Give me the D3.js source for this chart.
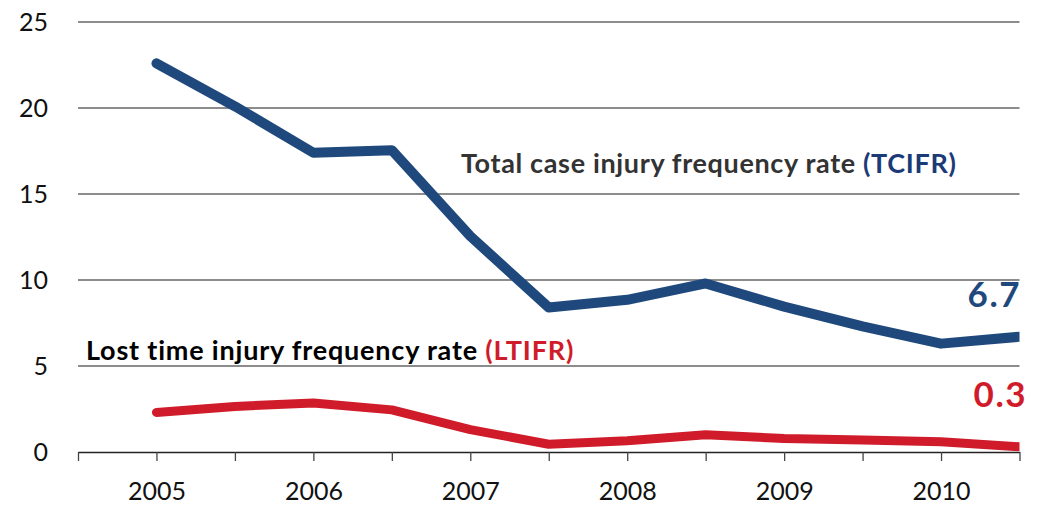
<!DOCTYPE html>
<html>
<head>
<meta charset="utf-8">
<script src="https://cdn.jsdelivr.net/npm/d3@7"></script>
<style>
  body { margin: 0; background: #fff; }
  svg { display: block; font-family: Lato, "Open Sans", sans-serif; }
</style>
</head>
<body>
<script>
const width = 1043;
const height = 505;

// half-year periods, labelled once per year
const years = [2005, 2006, 2007, 2008, 2009, 2010];
const tcifr = [22.6, 20.1, 17.4, 17.55, 12.55, 8.4, 8.85, 9.8, 8.45, 7.3, 6.3, 6.7];
const ltifr = [2.3, 2.65, 2.85, 2.45, 1.3, 0.45, 0.65, 1.0, 0.78, 0.7, 0.6, 0.3];
const yTicks = [0, 5, 10, 15, 20, 25];

const svg = d3.select("body")
    .append("svg")
    .attr("width", width)
    .attr("height", height);

const x = d3.scaleLinear()
    .domain([-1, 11])
    .range([78, 1019.5]);

const y = d3.scaleLinear()
    .domain([0, 25])
    .range([452, 22]);

// gridlines
svg.append("g")
    .selectAll("line")
    .data(yTicks.filter(d => d > 0))
    .enter()
    .append("line")
    .attr("x1", x(-1))
    .attr("x2", x(11))
    .attr("y1", d => y(d))
    .attr("y2", d => y(d))
    .attr("stroke", "#8c8c8c")
    .attr("stroke-width", 1.8);

// y labels
svg.append("g")
    .selectAll("text")
    .data(yTicks)
    .enter()
    .append("text")
    .attr("x", 48)
    .attr("y", d => y(d) + 9)
    .attr("text-anchor", "end")
    .attr("font-size", 25)
    .attr("fill", "#111")
    .text(d => d);

// x axis
const xAxis = d3.axisBottom(x)
    .tickValues(d3.range(-1, 12))
    .tickSize(9)
    .tickSizeOuter(0)
    .tickFormat(d => (d % 2 === 0 ? years[d / 2] : ""));

const gx = svg.append("g")
    .attr("transform", `translate(0,${y(0)})`)
    .call(xAxis);
gx.select(".domain").attr("stroke", "#222").attr("stroke-width", 1.5);
gx.selectAll(".tick line").attr("stroke", "#444").attr("stroke-width", 1.3);
gx.selectAll(".tick text")
    .attr("font-size", 25)
    .attr("font-family", "Lato, sans-serif")
    .attr("fill", "#111")
    .attr("dy", 0)
    .attr("y", 48);

// clip lines to the plot area
svg.append("clipPath")
    .attr("id", "plot")
    .append("rect")
    .attr("x", x(-1))
    .attr("y", 0)
    .attr("width", x(11) - x(-1))
    .attr("height", height);

const line = d3.line()
    .x((d, i) => x(i))
    .y(d => y(d));

svg.append("path")
    .datum(ltifr)
    .attr("clip-path", "url(#plot)")
    .attr("d", line)
    .attr("fill", "none")
    .attr("stroke", "#d01c2a")
    .attr("stroke-width", 9)
    .attr("stroke-linejoin", "round")
    .attr("stroke-linecap", "round");

svg.append("path")
    .datum(tcifr)
    .attr("clip-path", "url(#plot)")
    .attr("d", line)
    .attr("fill", "none")
    .attr("stroke", "#1f497d")
    .attr("stroke-width", 10)
    .attr("stroke-linejoin", "round")
    .attr("stroke-linecap", "round");

// series labels
const t1 = svg.append("text")
    .attr("x", 461)
    .attr("y", 173)
    .attr("font-size", 27)
    .attr("letter-spacing", 0.65)
    .attr("font-weight", "bold")
    .attr("fill", "#333");
t1.append("tspan").text("Total case injury frequency rate ");
t1.append("tspan").attr("fill", "#1a3a78").text("(TCIFR)");

const t2 = svg.append("text")
    .attr("x", 86)
    .attr("y", 360)
    .attr("font-size", 27)
    .attr("letter-spacing", 0.8)
    .attr("font-weight", "bold")
    .attr("fill", "#000");
t2.append("tspan").text("Lost time injury frequency rate ");
t2.append("tspan").attr("fill", "#d01c2a").text("(LTIFR)");

// end values
svg.append("text")
    .attr("x", 1021)
    .attr("y", 307)
    .attr("text-anchor", "end")
    .attr("font-size", 35)
    .attr("letter-spacing", 1.5)
    .attr("font-weight", "bold")
    .attr("fill", "#1f497d")
    .text(d3.format(".1f")(tcifr[tcifr.length - 1]));

svg.append("text")
    .attr("x", 1027)
    .attr("y", 407)
    .attr("text-anchor", "end")
    .attr("font-size", 35)
    .attr("letter-spacing", 1.5)
    .attr("font-weight", "bold")
    .attr("fill", "#d01c2a")
    .text(d3.format(".1f")(ltifr[ltifr.length - 1]));
</script>
</body>
</html>
